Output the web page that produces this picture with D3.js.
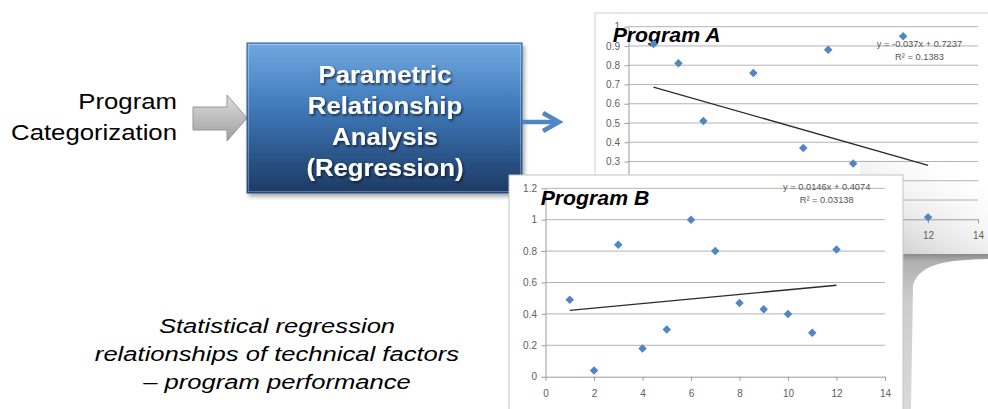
<!DOCTYPE html>
<html><head><meta charset="utf-8">
<script src="https://cdn.jsdelivr.net/npm/d3@7"></script>
<style>html,body{margin:0;padding:0;background:#fff;}svg{display:block;}</style>
</head><body>
<svg id="c" width="988" height="409"></svg>
<script>
// ---------- data ----------
const progA_x = [1, 2, 3, 5, 7, 8, 9, 11, 12];
const progA_y = [0.91, 0.81, 0.51, 0.76, 0.37, 0.88, 0.29, 0.95, 0.01];
const progB_x = [1, 2, 3, 4, 5, 6, 7, 8, 9, 10, 11, 12];
const progB_y = [0.49, 0.04, 0.84, 0.18, 0.30, 1.00, 0.80, 0.47, 0.43, 0.40, 0.28, 0.81];
const trendA = [-0.037, 0.7237];   // slope, intercept
const trendB = [0.0146, 0.4074];
const trendRange = [1, 12];
const eqA = ["y = -0.037x + 0.7237", "R² = 0.1383"];
const eqB = ["y = 0.0146x + 0.4074", "R² = 0.03138"];
const ticksA_y = [0, 0.1, 0.2, 0.3, 0.4, 0.5, 0.6, 0.7, 0.8, 0.9, 1];
const ticksB_y = [0, 0.2, 0.4, 0.6, 0.8, 1, 1.2];
const ticksX = [0, 2, 4, 6, 8, 10, 12, 14];
const titleA = "Program A";
const titleB = "Program B";
const boxLines = ["Parametric", "Relationship", "Analysis", "(Regression)"];
const leftLines = ["Program", "Categorization"];
const noteLines = ["Statistical regression", "relationships of technical factors", "– program performance"];

// ---------- setup ----------
const svg = d3.select("#c");
const defs = svg.append("defs");
const FONT = "'Liberation Sans', Arial, Helvetica, sans-serif";

function lin(id, x1, y1, x2, y2, stops) {
  const g = defs.append("linearGradient").attr("id", id)
    .attr("x1", x1).attr("y1", y1).attr("x2", x2).attr("y2", y2);
  stops.forEach(s => g.append("stop").attr("offset", s[0]).attr("stop-color", s[1])
    .attr("stop-opacity", s[2] === undefined ? 1 : s[2]));
}
lin("boxGrad", 0, 0, 0, 1, [[0, "#70a9e1"], [0.45, "#3e77b7"], [1, "#1c3a63"]]);
lin("grayArrow", 0, 0, 0, 1, [[0, "#dedede"], [1, "#9e9e9e"]]);
lin("fadeA", 0, 1, 0.8, 0, [[0, "#b8b8b8", 0.9], [1, "#ffffff", 0]]);
lin("shadowG", 0, 0, 0, 1, [[0, "#8a8a8a"], [0.05, "#b0b0b0"], [0.3, "#cccccc"], [1, "#dadada"]]);

const fT = defs.append("filter").attr("id", "txtShadow")
  .attr("x", "-10%").attr("y", "-30%").attr("width", "130%").attr("height", "170%");
fT.append("feDropShadow").attr("dx", 1.3).attr("dy", 1.6).attr("stdDeviation", 0.9)
  .attr("flood-color", "#071426").attr("flood-opacity", 0.85);
const fB = defs.append("filter").attr("id", "boxShadow")
  .attr("x", "-5%").attr("y", "-5%").attr("width", "115%").attr("height", "120%");
fB.append("feDropShadow").attr("dx", 2).attr("dy", 3).attr("stdDeviation", 2)
  .attr("flood-color", "#000").attr("flood-opacity", 0.35);

// ---------- left text + gray arrow ----------
const gl = svg.append("g").attr("font-family", FONT).attr("font-size", 22).attr("fill", "#000");
leftLines.forEach((t, i) => gl.append("text")
  .attr("transform", `translate(177,${109 + i * 31}) scale(1.17,1)`)
  .attr("text-anchor", "end").text(t));

svg.append("path")
  .attr("d", "M193,107 L227,107 L227,95 L247,118 L227,141 L227,130 L193,130 Z")
  .attr("fill", "url(#grayArrow)").attr("stroke", "#979797").attr("stroke-width", 1);

// ---------- note text ----------
const gn = svg.append("g").attr("font-family", FONT).attr("font-size", 21)
  .attr("font-style", "italic").attr("fill", "#000");
noteLines.forEach((t, i) => gn.append("text")
  .attr("transform", `translate(277,${333 + i * 28}) scale(1.22,1)`)
  .attr("text-anchor", "middle").text(t));

// ---------- blue box ----------
svg.append("rect").attr("x", 247).attr("y", 43).attr("width", 275).attr("height", 150)
  .attr("fill", "url(#boxGrad)").attr("stroke", "#2b5a91").attr("filter", "url(#boxShadow)");
svg.append("rect").attr("x", 248.5).attr("y", 44.5).attr("width", 272).attr("height", 147)
  .attr("fill", "none").attr("stroke", "rgba(255,255,255,0.3)");
const gbx = svg.append("g").attr("font-family", FONT).attr("font-size", 24.5)
  .attr("font-weight", "bold").attr("fill", "#fff").attr("filter", "url(#txtShadow)");
boxLines.forEach((t, i) => gbx.append("text")
  .attr("transform", `translate(385,${82.5 + i * 31.3}) scale(1.05,1)`)
  .attr("text-anchor", "middle").text(t));

// ---------- blue arrow ----------
svg.append("line").attr("x1", 522).attr("y1", 122).attr("x2", 558).attr("y2", 122)
  .attr("stroke", "#4f86c6").attr("stroke-width", 4.5);
svg.append("path").attr("d", "M543,113 L559,122 L543,131")
  .attr("fill", "none").attr("stroke", "#4f86c6").attr("stroke-width", 4.5)
  .attr("stroke-linejoin", "miter");

// ---------- chart helper ----------
const diamond = d3.symbol().type(d3.symbolSquare).size(36);
const fmt = d3.format("~g");

function drawChart(g, xs, ys, trend, eq, title, x, y, yTicks, eqPos, titlePos) {
  // grid
  g.append("g").selectAll("line").data(yTicks.filter(d => d > 0)).join("line")
    .attr("x1", x(0)).attr("x2", x(14))
    .attr("y1", d => y(d)).attr("y2", d => y(d))
    .attr("stroke", "#b3b3b3").attr("stroke-width", 1);
  // y axis
  const ay = g.append("g").attr("transform", `translate(${x(0)},0)`)
    .call(d3.axisLeft(y).tickValues(yTicks).tickFormat(fmt).tickSize(4).tickSizeOuter(0).tickPadding(4.5));
  // x axis
  const ax = g.append("g").attr("transform", `translate(0,${y(0)})`)
    .call(d3.axisBottom(x).tickValues(ticksX).tickFormat(fmt).tickSize(4).tickSizeOuter(0).tickPadding(9));
  [ay, ax].forEach(a => {
    a.selectAll("path.domain").attr("stroke", "#9a9a9a");
    a.selectAll("line").attr("stroke", "#9a9a9a");
    a.selectAll("text").attr("font-family", FONT).attr("font-size", 10).attr("fill", "#606060");
  });
  // trend line
  const line = d3.line().x(d => x(d)).y(d => y(trend[0] * d + trend[1]));
  g.append("path").attr("d", line(trendRange)).attr("fill", "none")
    .attr("stroke", "#2a2a2a").attr("stroke-width", 1.3);
  // equation
  eq.forEach((t, i) => g.append("text").attr("x", eqPos[0]).attr("y", eqPos[1] + i * 13)
    .attr("text-anchor", "middle").attr("font-family", FONT).attr("font-size", 9.3)
    .attr("fill", "#555").text(t));
  // title
  g.append("text").attr("transform", `translate(${titlePos[0]},${titlePos[1]}) scale(1.09,1)`)
    .attr("font-family", FONT).attr("font-size", 19.5).attr("font-weight", "bold")
    .attr("font-style", "italic").attr("fill", "#000").text(title);
  // points
  g.append("g").selectAll("path").data(xs.map((v, i) => [v, ys[i]])).join("path")
    .attr("d", diamond)
    .attr("transform", d => `translate(${x(d[0])},${y(d[1])}) rotate(45)`)
    .attr("fill", "#4f86c6");
}

// ---------- Program A panel ----------
const gA = svg.append("g");
gA.append("rect").attr("x", 595).attr("y", 13).attr("width", 400).attr("height", 242)
  .attr("fill", "#fff").attr("stroke", "#cfcfcf");
gA.append("rect").attr("x", 860).attr("y", 160).attr("width", 135).attr("height", 95)
  .attr("fill", "url(#fadeA)");
const xA = d3.scaleLinear().domain([0, 14]).range([628.5, 978]);
const yA = d3.scaleLinear().domain([0, 1]).range([219.3, 26.7]);
drawChart(gA, progA_x, progA_y, trendA, eqA, titleA, xA, yA, ticksA_y, [919.5, 46.5], [612.7, 42]);

// shadow below A / right of B
svg.append("path")
  .attr("d", "M903,254 L990,254 L990,259 C948,260 920,263 913,285 L911,409 L903,409 Z")
  .attr("fill", "url(#shadowG)");

// ---------- Program B panel ----------
const gB = svg.append("g");
gB.append("rect").attr("x", 509).attr("y", 175).attr("width", 394).attr("height", 250)
  .attr("fill", "#fff").attr("stroke", "#c4c4c4");
const xB = d3.scaleLinear().domain([0, 14]).range([545.5, 885]);
const yB = d3.scaleLinear().domain([0, 1.2]).range([376.7, 188.3]);
drawChart(gB, progB_x, progB_y, trendB, eqB, titleB, xB, yB, ticksB_y, [826.7, 189.5], [540.7, 204.5]);
</script>
</body></html>
